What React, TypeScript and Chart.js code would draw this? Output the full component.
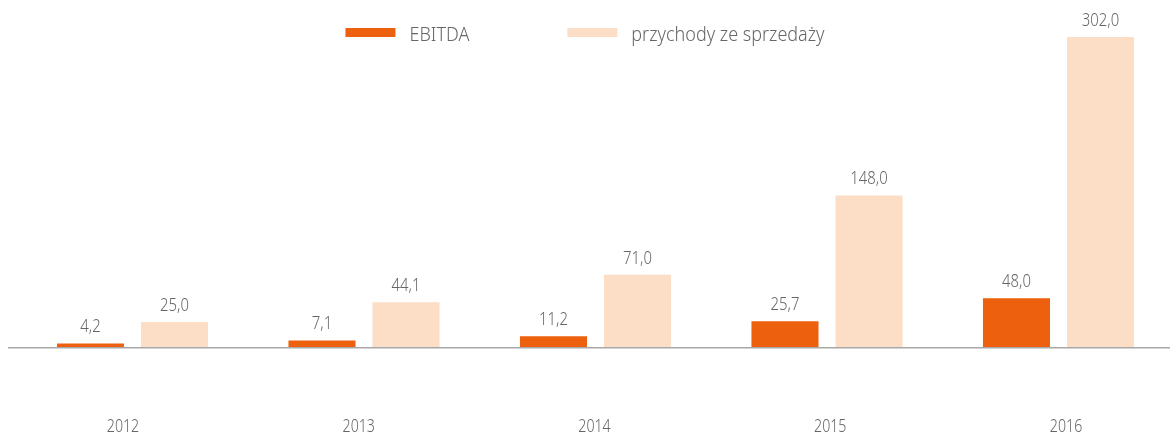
import React, { useEffect, useRef } from "react";
import { Chart, registerables } from "chart.js";

Chart.register(...registerables);

const years = ["2012", "2013", "2014", "2015", "2016"];
const ebitda = [4.2, 7.1, 11.2, 25.7, 48.0];
const przychody = [25.0, 44.1, 71.0, 148.0, 302.0];
const seriesNames = ["EBITDA", "przychody ze sprzedaży"];
const seriesColors = ["#EC600E", "#FCDEC6"];

const FAMILY = '"Noto Sans", "Open Sans", sans-serif';
const TEXT_COLOR = "#666666";
const NARROW = 0.81;

const fmt = (v: number) => v.toFixed(1).replace(".", ",");

function setFont(ctx: any, size: number) {
  ctx.font = `300 ${size}px ${FAMILY}`;
}

// draw text horizontally condensed (the reference uses a narrow face)
function drawText(ctx: any, text: string, x: number, y: number, sx: number, align: string, baseline: string) {
  ctx.save();
  ctx.translate(x, y);
  ctx.scale(sx, 1);
  ctx.textAlign = align;
  ctx.textBaseline = baseline;
  ctx.fillText(text, 0, 0);
  ctx.restore();
}

const baselinePlugin = {
  id: "baseline",
  afterDatasetsDraw(chart: any) {
    const { ctx } = chart;
    const y = chart.scales.y.getPixelForValue(0);
    ctx.save();
    ctx.strokeStyle = "#a8a8a8";
    ctx.lineWidth = 1.5;
    ctx.beginPath();
    ctx.moveTo(8, y);
    ctx.lineTo(chart.width, y);
    ctx.stroke();
    ctx.restore();
  },
};

const labelPlugin = {
  id: "valueLabels",
  afterDatasetsDraw(chart: any) {
    const { ctx } = chart;
    ctx.save();
    setFont(ctx, 17.5);
    ctx.fillStyle = TEXT_COLOR;
    chart.data.datasets.forEach((ds: any, di: number) => {
      const meta = chart.getDatasetMeta(di);
      meta.data.forEach((bar: any, i: number) => {
        drawText(ctx, fmt(ds.data[i]), bar.x, bar.y - 11, 0.85, "center", "alphabetic");
      });
    });
    // year labels, positioned by the x2 scale
    const xs = chart.scales.x2;
    years.forEach((yr, i) => {
      drawText(ctx, yr, xs.getPixelForValue(i), chart.chartArea.bottom - 9, NARROW, "center", "middle");
    });
    ctx.restore();
  },
};

const legendPlugin = {
  id: "customLegend",
  afterDraw(chart: any) {
    const { ctx } = chart;
    const boxW = 50;
    const boxH = 9;
    const gap = 14;
    const itemGap = 98;
    const sx = 0.9;
    ctx.save();
    setFont(ctx, 20);
    const widths = seriesNames.map((n) => ctx.measureText(n).width * sx);
    const total = widths.reduce((a, w) => a + boxW + gap + w, 0) + itemGap * (seriesNames.length - 1);
    let x = 585 - total / 2;
    seriesNames.forEach((name, i) => {
      ctx.fillStyle = seriesColors[i];
      ctx.fillRect(x, 28, boxW, boxH);
      ctx.fillStyle = TEXT_COLOR;
      drawText(ctx, name, x + boxW + gap, 40.5, sx, "left", "alphabetic");
      x += boxW + gap + widths[i] + itemGap;
    });
    ctx.restore();
  },
};

export default function App() {
  const ref = useRef<HTMLCanvasElement | null>(null);

  useEffect(() => {
    if (!ref.current) return;
    const chart = new Chart(ref.current, {
      type: "bar",
      data: {
        labels: years,
        datasets: [
          {
            label: seriesNames[0],
            data: ebitda,
            backgroundColor: seriesColors[0],
            borderWidth: 0,
            categoryPercentage: 0.726,
            barPercentage: 0.798,
          },
          {
            label: seriesNames[1],
            data: przychody,
            backgroundColor: seriesColors[1],
            borderWidth: 0,
            categoryPercentage: 0.726,
            barPercentage: 0.798,
          },
        ],
      },
      options: {
        animation: false,
        responsive: false,
        devicePixelRatio: 1,
        layout: { padding: { left: 16.75, right: 5.75, top: 0, bottom: 0 } },
        plugins: {
          legend: { display: false },
          tooltip: { enabled: false },
        },
        scales: {
          x: { display: false },
          y: { display: false, min: -85.83, max: 338 },
          x2: {
            type: "linear",
            position: "bottom",
            display: false,
            offset: false,
            bounds: "data",
            min: -0.4507,
            max: 4.459,
          },
        },
      },
      plugins: [baselinePlugin, labelPlugin, legendPlugin],
    } as any);
    return () => chart.destroy();
  }, []);

  return (
    <div
      style={{
        position: "fixed",
        left: 0,
        top: 0,
        width: 1170,
        height: 436,
        overflow: "hidden",
        background: "#fff",
      }}
    >
      <canvas ref={ref} width={1180} height={436} style={{ width: 1180, height: 436, display: "block" }} />
    </div>
  );
}
